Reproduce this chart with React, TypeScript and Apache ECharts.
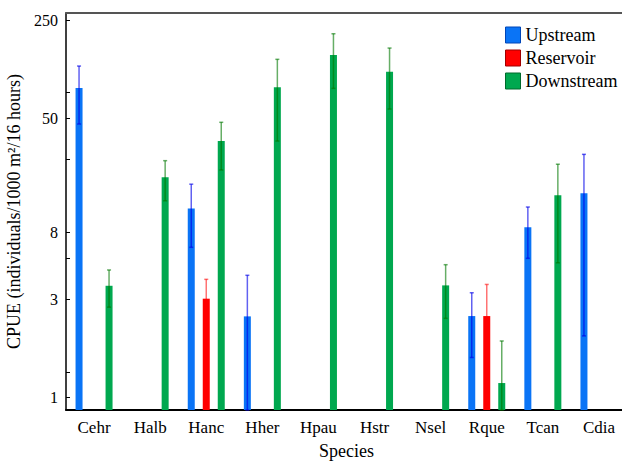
import React, { useEffect, useRef } from 'react';
import * as echarts from 'echarts';

// ---------- data (CPUE, individuals/1000 m²/16 hours) ----------
const categories = ['Cehr', 'Halb', 'Hanc', 'Hher', 'Hpau', 'Hstr', 'Nsel', 'Rque', 'Tcan', 'Cdia'];
const seriesNames = ['Upstream', 'Reservoir', 'Downstream'];

const upstream = [82, null, 11.7, 2.39, null, null, null, 2.4, 8.7, 14.9];
const upstreamLow = [45.5, null, 6.4, 0.8, null, null, null, 1.46, 5.42, 1.87];
const upstreamHigh = [117.5, null, 17.2, 4.22, null, null, null, 3.29, 11.96, 27.8];

const reservoir = [null, null, 3.03, null, null, null, null, 2.4, null, null];
const reservoirLow = [null, null, 2.34, null, null, null, null, 1.46, null, null];
const reservoirHigh = [null, null, 3.98, null, null, null, null, 3.7, null, null];

const downstream = [3.63, 19.2, 34.5, 82.9, 140.8, 107.1, 3.65, 1.13, 14.4, null];
const downstreamLow = [2.7, 13.2, 21.6, 34.5, 81.5, 58.1, 2.33, 0.8, 5.07, null];
const downstreamHigh = [4.56, 25.1, 46.8, 131.2, 199.8, 157.9, 4.93, 1.76, 23.7, null];

const yTickLabels = [1, 3, 8, 50, 250];
const yMinorTicks = [1.25, 5.45, 25.8, 76.7];

// The y axis is logarithmic in (CPUE - 0.5)
const AXIS_OFFSET = 0.5;
const Y_MIN = 0.904;
const Y_MAX = 281;

const FONT = "'Liberation Serif', 'Times New Roman', serif";
const barColors = ['#0a74f6', '#ff0000', '#00a84f'];
const legendBorders = ['#0046b8', '#a00000', '#006a2c'];
const whiskerColors = ['rgba(0,0,232,0.62)', 'rgba(255,0,0,0.55)', 'rgba(0,120,0,0.6)'];
const BAR_W = 7;
const BAR_GAP_PX = 8;

const base = Math.log10(Y_MIN - AXIS_OFFSET);
const t = (v: number) => {
  const d = v - AXIS_OFFSET;
  if (d <= Y_MIN - AXIS_OFFSET) return 0;
  return Math.log10(d) - base;
};
const inv = (u: number) => AXIS_OFFSET + Math.pow(10, u + base);

export default function App() {
  const ref = useRef<HTMLDivElement>(null);
  useEffect(() => {
    if (!ref.current) return;
    const chart = echarts.init(ref.current, null, { renderer: 'svg' });
    const means = [upstream, reservoir, downstream];
    const lows = [upstreamLow, reservoirLow, downstreamLow];
    const highs = [upstreamHigh, reservoirHigh, downstreamHigh];
    const slot = BAR_W + BAR_GAP_PX;

    const barSeries = seriesNames.map((name, k) => ({
      type: 'bar',
      name,
      xAxisIndex: 0,
      data: means[k].map((v) => (v == null ? '-' : t(v))),
      barWidth: BAR_W,
      barGap: (BAR_GAP_PX / BAR_W) * 100 + '%',
      itemStyle: { color: barColors[k] },
      z: 2,
    }));

    const errSeries = seriesNames.map((name, k) => ({
      type: 'custom',
      name: name + ' error',
      xAxisIndex: 0,
      z: 3,
      encode: { x: 0, y: [1, 2] },
      data: categories
        .map((_, i) => (lows[k][i] == null ? null : [i, t(lows[k][i] as number), t(highs[k][i] as number)]))
        .filter((d) => d !== null),
      renderItem: (params: any, api: any) => {
        const i = api.value(0);
        const lo = api.value(1);
        const hi = api.value(2);
        const pHi = api.coord([i, hi]);
        const pLo = api.coord([i, lo]);
        const x = pHi[0] + (k - 1) * slot;
        const style = { stroke: whiskerColors[k], lineWidth: 1.5 };
        return {
          type: 'group',
          children: [
            { type: 'line', shape: { x1: x, y1: pHi[1], x2: x, y2: pLo[1] }, style },
            { type: 'line', shape: { x1: x - 2, y1: pHi[1], x2: x + 2, y2: pHi[1] }, style },
            { type: 'line', shape: { x1: x - 2, y1: pLo[1], x2: x + 2, y2: pLo[1] }, style },
          ],
        };
      },
    }));

    chart.setOption({
      animation: false,
      backgroundColor: '#fff',
      grid: { left: 66, top: 13, width: 561, height: 397, outerBoundsMode: 'none', containLabel: false },
      legend: {
        data: seriesNames.map((n, k) => ({
          name: n,
          itemStyle: { color: barColors[k], borderColor: legendBorders[k], borderWidth: 1 },
        })),
        orient: 'vertical',
        left: 500,
        top: 21,
        icon: 'rect',
        itemWidth: 15,
        itemHeight: 16,
        itemGap: 5,
        selectedMode: false,
        textStyle: { fontSize: 18, color: '#000', fontFamily: FONT },
      },
      xAxis: [
        {
          type: 'category',
          data: categories,
          axisLine: { lineStyle: { color: '#000', width: 2 } },
          axisTick: { show: false },
          axisLabel: { fontSize: 17, margin: 9, color: '#000', fontFamily: FONT },
          name: 'Species',
          nameLocation: 'middle',
          nameGap: 32,
          nameTextStyle: { fontSize: 18, color: '#000', fontFamily: FONT },
        },
        {
          type: 'category',
          position: 'top',
          data: categories,
          axisLine: { lineStyle: { color: '#555', width: 2 } },
          axisTick: { show: false },
          axisLabel: { show: false },
        },
      ],
      yAxis: {
        type: 'value',
        min: 0,
        max: t(Y_MAX),
        splitLine: { show: false },
        axisLine: { show: true, lineStyle: { color: '#000', width: 1.5 } },
        axisTick: {
          show: true,
          inside: true,
          length: 4,
          lineStyle: { color: '#000', width: 1 },
          customValues: [...yTickLabels, ...yMinorTicks].map(t),
        },
        axisLabel: {
          customValues: yTickLabels.map(t),
          formatter: (u: number) => String(Math.round(inv(u))),
          margin: 8,
          fontSize: 16,
          color: '#000',
          fontFamily: FONT,
        },
        name: 'CPUE (individuals/1000 m²/16 hours)',
        nameLocation: 'middle',
        nameGap: 40,
        nameTextStyle: { fontSize: 18, color: '#000', fontFamily: FONT },
      },
      series: [...barSeries, ...errSeries],
    });
    return () => chart.dispose();
  }, []);
  return (
    <div
      ref={ref}
      style={{ position: 'fixed', left: 0, top: 0, width: 622, height: 462, background: '#fff' }}
    />
  );
}
